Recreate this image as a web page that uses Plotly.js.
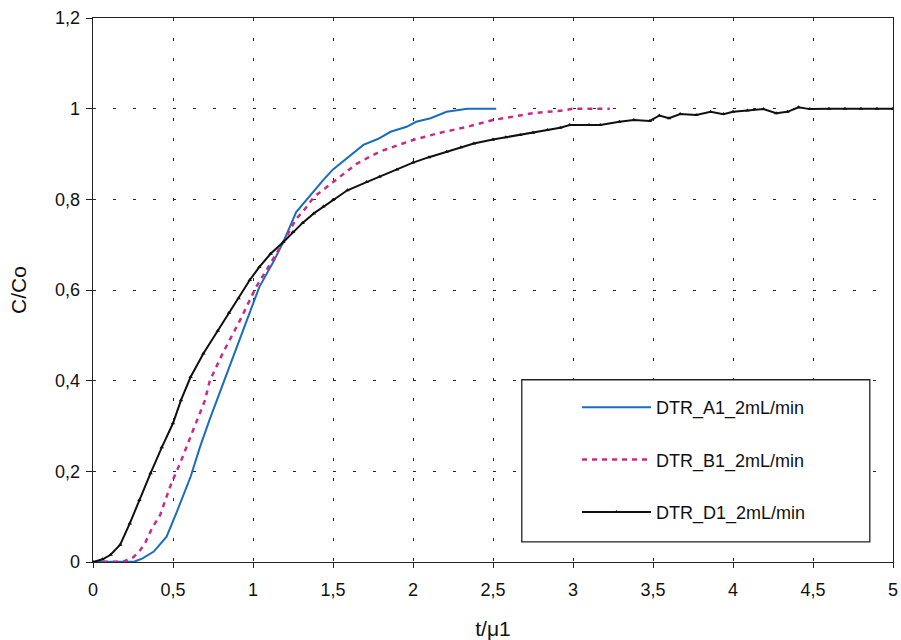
<!DOCTYPE html>
<html>
<head>
<meta charset="utf-8">
<script src="https://cdn.plot.ly/plotly-3.0.1.min.js"></script>
<style>html,body{margin:0;padding:0;background:#fff;}#chart{width:901px;height:640px;}</style>
</head>
<body>
<div id="chart"></div>
<script>
// Series names
const seriesNames = ["DTR_A1_2mL/min", "DTR_B1_2mL/min", "DTR_D1_2mL/min"];

// DTR_A1 (blue solid)
const a1X = [0, 0.2, 0.26, 0.31, 0.38, 0.46, 0.52, 0.61, 0.67, 0.73, 0.78, 0.83, 0.9, 0.98, 1.04, 1.13, 1.19, 1.27, 1.31, 1.38, 1.44, 1.5, 1.6, 1.69, 1.78, 1.86, 1.96, 2.02, 2.11, 2.21, 2.34, 2.43, 2.52];
const a1Y = [0, 0, 0.001, 0.008, 0.023, 0.056, 0.107, 0.188, 0.255, 0.315, 0.362, 0.41, 0.476, 0.553, 0.607, 0.664, 0.706, 0.772, 0.789, 0.818, 0.843, 0.866, 0.895, 0.92, 0.933, 0.949, 0.96, 0.971, 0.979, 0.993, 1.0, 1.0, 1.0];

// DTR_B1 (magenta dashed)
const b1X = [0, 0.1, 0.19, 0.25, 0.29, 0.33, 0.37, 0.42, 0.49, 0.54, 0.61, 0.7, 0.73, 0.81, 0.92, 1.02, 1.11, 1.19, 1.27, 1.31, 1.38, 1.5, 1.54, 1.65, 1.79, 1.9, 2.0, 2.17, 2.34, 2.5, 2.63, 2.75, 2.84, 2.94, 3.0, 3.1, 3.23];
const b1Y = [0, 0, 0.001, 0.01, 0.023, 0.045, 0.075, 0.104, 0.174, 0.214, 0.276, 0.357, 0.40, 0.46, 0.534, 0.607, 0.659, 0.706, 0.757, 0.772, 0.805, 0.838, 0.848, 0.879, 0.905, 0.918, 0.931, 0.947, 0.96, 0.975, 0.982, 0.99, 0.993, 0.996, 1.0, 1.0, 1.0];

// DTR_D1 (black with markers)
const d1X = [0, 0.06, 0.11, 0.17, 0.23, 0.29, 0.36, 0.43, 0.5, 0.55, 0.61, 0.69, 0.78, 0.85, 0.91, 0.98, 1.04, 1.11, 1.19, 1.25, 1.31, 1.38, 1.44, 1.5, 1.59, 1.71, 1.79, 1.9, 2.0, 2.1, 2.21, 2.3, 2.38, 2.5, 2.58, 2.67, 2.75, 2.84, 2.92, 2.98, 3.1, 3.17, 3.29, 3.38, 3.48, 3.54, 3.6, 3.67, 3.77, 3.86, 3.94, 4.0, 4.09, 4.19, 4.27, 4.34, 4.41, 4.48, 4.6, 4.7, 4.8, 4.9, 5.0];
const d1Y = [0, 0.006, 0.016, 0.038, 0.085, 0.137, 0.196, 0.253, 0.306, 0.357, 0.408, 0.46, 0.51, 0.55, 0.582, 0.622, 0.651, 0.68, 0.706, 0.728, 0.748, 0.769, 0.784, 0.799, 0.82, 0.838, 0.85, 0.866, 0.881, 0.893, 0.905, 0.915, 0.923, 0.932, 0.937, 0.942, 0.947, 0.953, 0.958, 0.964, 0.964, 0.964, 0.971, 0.975, 0.973, 0.985, 0.979, 0.988, 0.986, 0.993, 0.988, 0.993, 0.996, 0.999, 0.990, 0.993, 1.003, 0.999, 1.0, 1.0, 1.0, 1.0, 1.0];

// Axis tick values
const xTicks = [0, 0.5, 1, 1.5, 2, 2.5, 3, 3.5, 4, 4.5, 5];
const yTicks = [0, 0.2, 0.4, 0.6, 0.8, 1, 1.2];

const FONT = "Liberation Sans, Arial, sans-serif";

const traces = [
  {x: a1X, y: a1Y, name: seriesNames[0], mode: "lines", legendgroup: "a",
   line: {color: "#1a6cc0", width: 2}},
  {x: b1X, y: b1Y, name: seriesNames[1], mode: "lines", legendgroup: "b",
   line: {color: "#cc2a8a", width: 2.5, dash: "5px,5px"}},
  {x: d1X, y: d1Y, name: seriesNames[2], mode: "lines+markers", legendgroup: "d",
   line: {color: "#111111", width: 2},
   marker: {symbol: "triangle-up", size: 4, color: "#111111"}}
];

const axisCommon = {
  showline: true, linecolor: "#222", linewidth: 1.4, mirror: true,
  ticks: "outside", ticklen: 6, tickcolor: "#222", tickwidth: 1,
  showgrid: true, gridcolor: "#2a2a2a", gridwidth: 1, griddash: "3px,17px",
  zeroline: false,
  tickfont: {family: FONT, size: 18, color: "#111"}
};

const layout = {
  width: 901, height: 640,
  margin: {l: 93, r: 8, t: 18, b: 78},
  paper_bgcolor: "#fff", plot_bgcolor: "#fff",
  separators: ", ",
  showlegend: true,
  xaxis: Object.assign({}, axisCommon, {
    range: [0, 5], tickvals: xTicks, ticklen: 5, ticklabelstandoff: 6,
    title: {text: "t/\u03bc1", font: {family: FONT, size: 21, color: "#111"}, standoff: 24}
  }),
  yaxis: Object.assign({}, axisCommon, {
    range: [0, 1.2], tickvals: yTicks, ticklabelstandoff: 2,
    title: {text: "C/Co", font: {family: FONT, size: 21, color: "#111"}, standoff: 22}
  }),
  legend: {
    x: 0.605, y: 0.318, xanchor: "left", yanchor: "top",
    bgcolor: "rgba(0,0,0,0)", borderwidth: 0,
    font: {family: FONT, size: 18, color: "#111"},
    itemwidth: 69, tracegroupgap: 26, traceorder: "grouped"
  },
  shapes: [{
    type: "rect", xref: "paper", yref: "paper", layer: "above",
    x0: 0.536, x1: 0.971, y0: 0.037, y1: 0.335,
    fillcolor: "#fff", line: {color: "#222", width: 1.3}
  }]
};

Plotly.newPlot("chart", traces, layout, {displayModeBar: false, staticPlot: true});
</script>
</body>
</html>
